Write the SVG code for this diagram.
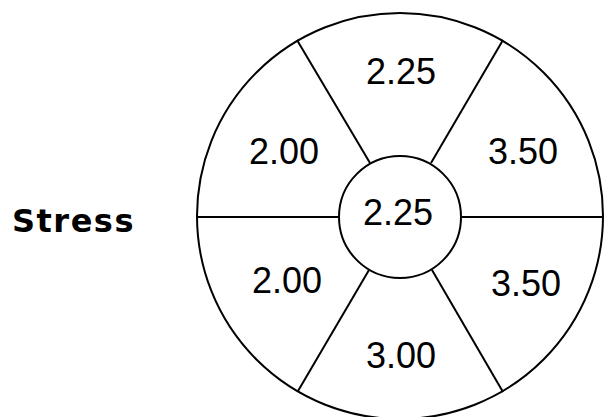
<svg xmlns="http://www.w3.org/2000/svg" width="606" height="417" viewBox="0 0 606 417">
<style>
.ln{fill:none;stroke:#000;stroke-width:2}
.num{font-family:"Liberation Sans",Arial,sans-serif;font-size:36px;fill:#000;text-anchor:middle}
.lbl{font-family:"DejaVu Sans",Verdana,sans-serif;font-weight:bold;font-size:32px;fill:#000;letter-spacing:1.5px}
</style>
<rect width="606" height="417" fill="#fff"/>
<g id="connectors">
<line class="ln" x1="197" y1="217" x2="339" y2="217"/>
<line class="ln" x1="462" y1="217" x2="602" y2="217"/>
<line class="ln" x1="297" y1="40" x2="370" y2="163"/>
<line class="ln" x1="503" y1="40" x2="431" y2="163"/>
<line class="ln" x1="369" y1="270" x2="298" y2="391"/>
<line class="ln" x1="432" y1="270" x2="503" y2="392"/>
</g>
<g id="outer"><circle class="ln" cx="400" cy="216" r="203"/></g>
<g id="center"><circle class="ln" cx="400" cy="217" r="61"/><text class="num" x="398" y="225">2.25</text></g>
<g id="top"><text class="num" x="401" y="84">2.25</text></g>
<g id="upper-left"><text class="num" x="284" y="164">2.00</text></g>
<g id="upper-right"><text class="num" x="523" y="164">3.50</text></g>
<g id="lower-left"><text class="num" x="287" y="293">2.00</text></g>
<g id="lower-right"><text class="num" x="526" y="296">3.50</text></g>
<g id="bottom"><text class="num" x="401" y="368">3.00</text></g>
<g id="stress"><text class="lbl" x="12" y="232">Stress</text></g>
</svg>
